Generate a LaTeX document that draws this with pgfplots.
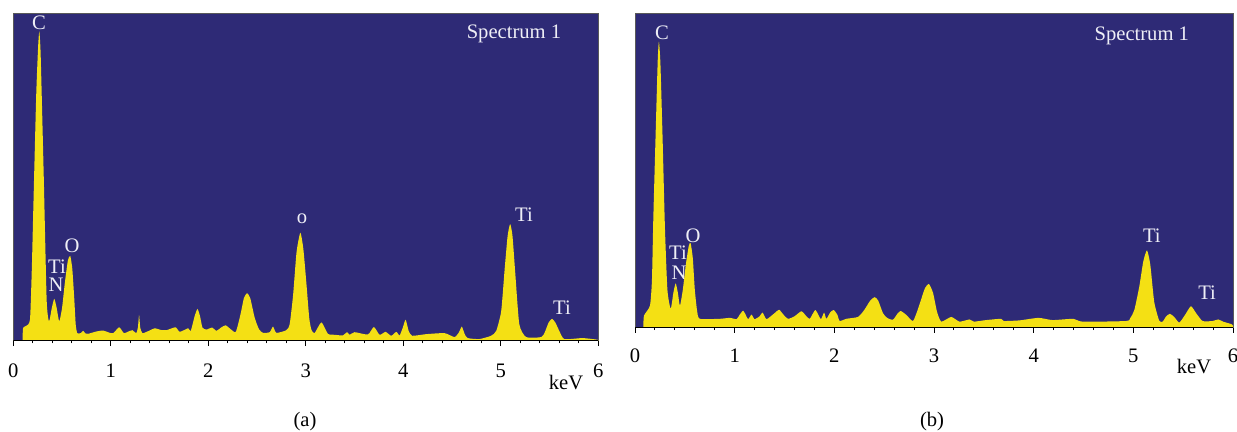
\documentclass[border=0pt]{standalone}
\usepackage{pgfplots}
\pgfplotsset{compat=1.18}
\usepackage{fontspec}
\setmainfont{Liberation Serif}
\definecolor{bgblue}{RGB}{46,42,118}
\definecolor{specyellow}{RGB}{244,224,20}
\definecolor{lbl}{RGB}{238,238,246}
\newcommand{\lblfont}{\fontsize{10.3}{12}\selectfont}
\tikzset{lab/.style={text=lbl, font=\lblfont, inner sep=0pt, anchor=center}}
\pgfplotsset{
  edsstyle/.style={
    scale only axis,
    anchor=south west,
    xmin=0, xmax=6, ymin=0, ymax=100,
    xtick={0,1,2,3,4,5,6},
    minor x tick num=4,
    ytick=\empty,
    xtick pos=bottom,
    tick align=outside,
    major tick length=2.7pt,
    minor tick length=1.4pt,
    every tick/.style={black, line width=0.5pt},
    axis line style={draw=black!65, line width=0.5pt},
    axis background/.style={fill=bgblue},
    /pgf/number format/assume math mode=true,
    tick label style={font=\lblfont},
    xticklabel style={anchor=base},
    clip=true,
  },
}
\begin{document}
\begin{tikzpicture}
\useasboundingbox (0,0) rectangle (618.5pt,216pt);
% ---------------- panel (a)
\begin{axis}[edsstyle, name=A, at={(6.65pt,45.65pt)}, width=292.5pt, height=163.7pt,
  xticklabel style={yshift=-15.6pt}]
\addplot[fill=specyellow, draw=none, smooth, tension=0.35] coordinates {
(0.095,0) (0.1,3.9) (0.13,4.5) (0.171,6.4) (0.19,22) (0.205,40) (0.235,75) (0.255,90) (0.267,94.5) (0.28,88) (0.3,65) (0.314,48) (0.342,12.5) (0.366,5.9)
(0.395,10) (0.42,12.8) (0.445,10) (0.471,5.9) (0.5,10) (0.53,18) (0.56,24.5) (0.584,25.9) (0.605,22) (0.625,13) (0.64,5) (0.656,2.3)
(0.69,2.3) (0.717,3) (0.74,2.2) (0.768,2.1) (0.85,2.8) (0.922,3.1) (0.98,2.5) (1.025,2.3) (1.086,4.1) (1.134,2.3) (1.18,2.8) (1.223,3.2)
(1.26,2.3) (1.278,4) (1.29,7.9) (1.302,4) (1.325,2.3) (1.39,3) (1.452,3.8) (1.51,3.3) (1.57,3.2) (1.664,4.1) (1.708,2.7) (1.793,3.8)
(1.82,3) (1.86,7.5) (1.889,9.7) (1.915,7.5) (1.94,4) (1.981,3.4) (2.039,4) (2.084,3) (2.13,4) (2.178,4.7) (2.23,3.5) (2.282,2.7)
(2.33,8) (2.365,13) (2.397,14.5) (2.43,13) (2.476,7) (2.52,3.5) (2.561,2.4) (2.63,2.6) (2.664,4.3) (2.698,2.4) (2.8,3.2) (2.835,5.1)
(2.87,14) (2.905,27) (2.944,33.0) (2.975,28) (3.006,17.6) (3.035,7) (3.057,3.4) (3.09,2.3) (3.16,5.6) (3.227,2.1) (3.3,1.8) (3.38,1.6)
(3.422,2.6) (3.45,1.8) (3.5,2.6) (3.637,1.9) (3.698,4.2) (3.757,1.8) (3.818,2.7) (3.876,1.5) (3.928,2.7) (3.962,1.6) (3.995,4) (4.024,6.4)
(4.055,3) (4.092,1.5) (4.235,2.0) (4.423,2.3) (4.525,1.1) (4.57,2.5) (4.6,4.3) (4.63,2) (4.66,0.8) (4.78,0.5) (4.9,1.5) (4.953,3)
(5.004,9) (5.04,22) (5.07,32) (5.096,35.6) (5.12,32) (5.15,20) (5.19,5) (5.26,1.1) (5.414,1.1) (5.45,2.5) (5.49,5.5) (5.526,6.7)
(5.56,5.5) (5.6,3) (5.652,0.5) (5.84,0.8) (5.99,0.3) (6,0)
} \closedcycle;
\draw[black, line width=0.6pt] (rel axis cs:0,0) -- (rel axis cs:1,0);
\node[lab] at (axis cs:0.264,97.2) {C};
\node[lab] at (axis cs:0.448,22.5) {Ti};
\node[lab] at (axis cs:0.438,17.0) {N};
\node[lab] at (axis cs:0.602,28.9) {O};
\node[lab] at (axis cs:2.961,37.2) {o};
\node[lab] at (axis cs:5.238,38.4) {Ti};
\node[lab] at (axis cs:5.628,10.0) {Ti};
\node[lab] at (axis cs:5.135,93.7) {Spectrum 1};
\end{axis}
% ---------------- panel (b)
\begin{axis}[edsstyle, name=B, at={(317.5pt,52.35pt)}, width=299pt, height=157pt,
  xticklabel style={yshift=-14.8pt}]
\addplot[fill=specyellow, draw=none, smooth, tension=0.35] coordinates {
(0.084,0) (0.09,3.7) (0.15,6.9) (0.17,15) (0.184,35) (0.21,65) (0.228,85) (0.24,91) (0.255,84) (0.277,60) (0.3,32) (0.325,12) (0.358,5.9)
(0.385,11) (0.408,14) (0.43,11) (0.451,6.9) (0.48,12) (0.51,20) (0.54,26) (0.558,26.8) (0.58,22) (0.6,12) (0.624,5) (0.651,2.7)
(0.85,2.7) (0.952,3.0) (1.019,2.6) (1.05,4) (1.085,5.3) (1.11,4) (1.135,2.6) (1.169,4) (1.2,2.6) (1.25,3.5) (1.28,4.7) (1.32,2.6)
(1.4,4.5) (1.446,5.6) (1.49,4) (1.536,2.7) (1.6,3.5) (1.67,5.1) (1.72,3.5) (1.754,2.7) (1.81,5.5) (1.864,2.6) (1.897,4.7) (1.92,2.7)
(1.96,4.8) (1.994,5.5) (2.03,4) (2.054,2) (2.12,2.7) (2.237,3.3) (2.3,5.5) (2.36,8.5) (2.405,9.6) (2.44,8.5) (2.488,4.5) (2.53,3)
(2.588,2.4) (2.63,4.2) (2.665,5.2) (2.72,4) (2.788,2.0) (2.83,5) (2.872,9) (2.91,12.5) (2.949,13.8) (2.99,11) (3.03,5) (3.073,1.8)
(3.173,3.3) (3.256,1.8) (3.357,2.5) (3.4,1.8) (3.524,2.3) (3.674,2.7) (3.7,2) (3.858,2.2) (4.048,3) (4.19,2.3) (4.399,2.7) (4.49,1.8)
(4.926,2) (4.97,3) (5.01,5.5) (5.06,13) (5.1,21) (5.137,24.5) (5.17,20) (5.21,8) (5.26,2.1) (5.294,1.8) (5.33,3.5) (5.367,4.3)
(5.41,3.3) (5.461,1.5) (5.52,4) (5.578,6.7) (5.63,4.5) (5.695,2) (5.795,2) (5.852,2.5) (5.9,1.8) (5.985,1) (6.0,0.5)
} \closedcycle;
\draw[black, line width=0.6pt] (rel axis cs:0,0) -- (rel axis cs:1,0);
\node[lab] at (axis cs:0.271,93.7) {C};
\node[lab] at (axis cs:0.431,23.7) {Ti};
\node[lab] at (axis cs:0.441,17.3) {N};
\node[lab] at (axis cs:0.582,29.1) {O};
\node[lab] at (axis cs:5.186,29.1) {Ti};
\node[lab] at (axis cs:5.74,10.9) {Ti};
\node[lab] at (axis cs:5.085,92.8) {Spectrum 1};
\end{axis}
\node[font=\lblfont, inner sep=0pt] at (283pt,24.5pt) {keV};
\node[font=\lblfont, inner sep=0pt] at (597pt,32.7pt) {keV};
\node[font=\lblfont, inner sep=0pt] at (152.5pt,5.25pt) {(a)};
\node[font=\lblfont, inner sep=0pt] at (466pt,5.25pt) {(b)};
\end{tikzpicture}
\end{document}
